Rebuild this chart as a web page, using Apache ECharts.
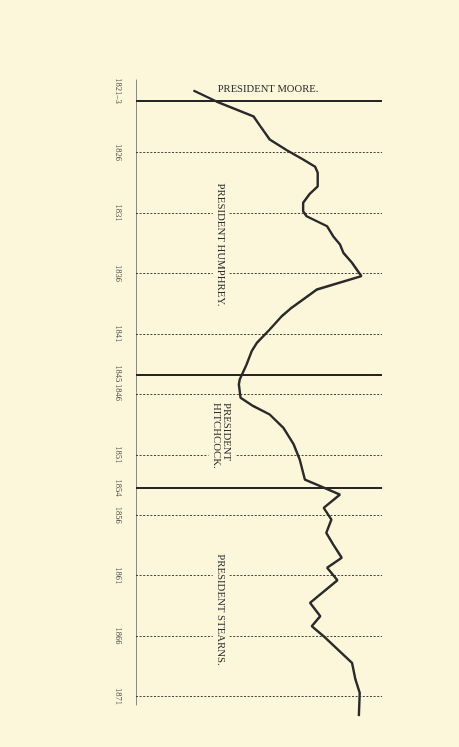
<!DOCTYPE html>
<html>
<head>
<meta charset="utf-8">
<script src="https://cdn.jsdelivr.net/npm/echarts@6/dist/echarts.min.js"></script>
<style>
html,body{margin:0;padding:0;background:#FCF7DA;}
#c{width:459px;height:747px;}
</style>
</head>
<body>
<div id="c"></div>
<script>
// Year (position along the vertical time axis) and number of students
var years = [1820.87, 1821.78, 1823.0, 1823.82, 1824.92, 1825.81, 1826.58, 1827.18, 1827.68, 1828.79,
  1829.39, 1830.16, 1830.86, 1831.27, 1832.10, 1832.92, 1833.61, 1834.30, 1835.12, 1836.23,
  1837.33, 1837.75, 1838.93, 1839.54, 1840.64, 1841.74, 1842.43, 1843.53, 1844.78, 1845.19,
  1846.29, 1846.98, 1847.67, 1848.77, 1850.15, 1851.39, 1853.05, 1853.60, 1854.29, 1855.39,
  1856.36, 1857.46, 1858.42, 1859.52, 1860.35, 1861.38, 1863.25, 1864.35, 1865.18, 1866.14,
  1868.21, 1869.59, 1870.69, 1872.62];
var students = [67, 94, 137, 145, 156, 176, 195, 209, 212, 212,
  203, 195, 195, 199, 223, 230, 238, 242, 252, 263,
  211, 203, 180, 170, 156, 141, 135, 129, 121, 120,
  122, 137, 156, 172, 184, 191, 197, 215, 238, 219,
  228, 222, 230, 240, 223, 235, 203, 215, 205, 221,
  252, 256, 261, 260];

// Dotted year lines and solid presidency boundaries
var dottedYears = [1826, 1831, 1836, 1841, 1846, 1851, 1856, 1861, 1866, 1871];
var boundaryYears = [1821.7, 1844.35, 1853.7];

// Year tick labels
var tickValues = [1820.9, 1826, 1831, 1836, 1841, 1844.3, 1845.85, 1851, 1853.75, 1856, 1861, 1866, 1871];
var tickLabels = ['1821–3', '1826', '1831', '1836', '1841', '1845', '1846', '1851', '1854', '1856', '1861', '1866', '1871'];

var presidents = ['PRESIDENT MOORE.', 'PRESIDENT HUMPHREY.', 'PRESIDENT\nHITCHCOCK.', 'PRESIDENT STEARNS.'];

var BG = '#FCF7DA';
var SERIF = '"Liberation Serif", "DejaVu Serif", serif';

var chart = echarts.init(document.getElementById('c'));

var points = years.map(function (y, i) { return [students[i], y]; });

var markData = dottedYears.map(function (y) {
  return { yAxis: y, lineStyle: { type: [2, 1.6], width: 1, color: '#454540' } };
}).concat(boundaryYears.map(function (y) {
  return { yAxis: y, lineStyle: { type: 'solid', width: 1.9, color: '#262626' } };
}));

function vText(txt, x, y, align) {
  return {
    type: 'text', x: x, y: y, rotation: -Math.PI / 2, z: 100,
    style: {
      text: txt, fill: '#2e2e2e', font: '10.8px ' + SERIF,
      align: align || 'center', verticalAlign: 'middle',
      backgroundColor: BG, padding: [3, 4, 3, 4], lineHeight: 10.5
    }
  };
}

chart.setOption({
  backgroundColor: BG,
  animation: false,
  grid: { left: 136, right: 77, top: 80, bottom: 42 },
  xAxis: {
    type: 'value', min: 0, max: 287,
    show: false
  },
  yAxis: {
    type: 'value', inverse: true, min: 1820, max: 1871.7,
    axisLine: { show: true, lineStyle: { color: '#8a8a80', width: 1 } },
    axisTick: { show: false },
    splitLine: { show: false },
    axisLabel: {
      customValues: tickValues,
      rotate: -90,
      margin: 13,
      fontSize: 8.5,
      fontFamily: SERIF,
      color: '#4a4a45',
      formatter: function (v) {
        var best = 0, d = 1e9;
        for (var i = 0; i < tickValues.length; i++) {
          var dd = Math.abs(tickValues[i] - v);
          if (dd < d) { d = dd; best = i; }
        }
        return tickLabels[best];
      }
    }
  },
  graphic: [
    {
      type: 'text', x: 268, y: 89, z: 100,
      style: { text: presidents[0], fill: '#2e2e2e', font: '10.6px ' + SERIF, align: 'center', verticalAlign: 'middle' }
    },
    vText(presidents[1], 221, 245),
    vText(presidents[2], 222, 399, 'left'),
    vText(presidents[3], 221, 610)
  ],
  series: [{
    type: 'line',
    data: points,
    symbol: 'none',
    clip: false,
    smooth: false,
    lineStyle: { color: '#2a2a2a', width: 2.4 },
    markLine: {
      silent: true,
      symbol: ['none', 'none'],
      label: { show: false },
      data: markData,
      z: 1
    },
    z: 5
  }]
});
</script>
</body>
</html>
